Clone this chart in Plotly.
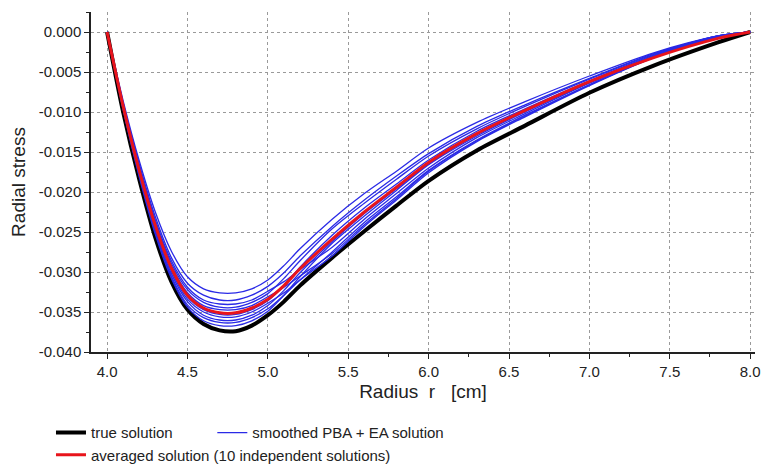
import plotly.graph_objects as go

# radius grid [cm]
radius = [4.0, 4.1, 4.2, 4.3, 4.4, 4.5, 4.6, 4.7, 4.8, 4.9, 5.0, 5.1,
          5.2, 5.4, 5.6, 5.8, 6.0, 6.3, 6.6, 7.0, 7.4, 7.8, 8.0]

true_solution = [0, -0.0100, -0.0184, -0.0257, -0.0312, -0.0347, -0.0365, -0.0373, -0.0374, -0.0367, -0.0354, -0.0337,
                 -0.0317, -0.0282, -0.0249, -0.0217, -0.0186, -0.0148, -0.0117, -0.0076, -0.0042, -0.0013, 0]

averaged = [0, -0.0093, -0.0173, -0.0242, -0.0295, -0.0329, -0.0345, -0.0351, -0.0351, -0.0345, -0.0334, -0.0317,
            -0.0296, -0.0259, -0.0225, -0.0194, -0.0163, -0.0127, -0.0098, -0.0062, -0.0032, -0.0008, 0]

# 10 independent smoothed PBA + EA solutions
pba_1 = [0, -0.0086, -0.0161, -0.0225, -0.0274, -0.0306, -0.0321, -0.0326, -0.0326, -0.0321, -0.0310, -0.0292,
         -0.0271, -0.0234, -0.0202, -0.0174, -0.0145, -0.0113, -0.0087, -0.0055, -0.0026, -0.0005, 0]
pba_2 = [0, -0.0089, -0.0165, -0.0231, -0.0282, -0.0314, -0.0329, -0.0335, -0.0335, -0.0329, -0.0318, -0.0301,
         -0.0280, -0.0243, -0.0210, -0.0180, -0.0152, -0.0118, -0.0091, -0.0058, -0.0027, -0.0005, 0]
pba_3 = [0, -0.0090, -0.0168, -0.0235, -0.0286, -0.0319, -0.0335, -0.0340, -0.0340, -0.0335, -0.0324, -0.0312,
         -0.0297, -0.0269, -0.0234, -0.0202, -0.0170, -0.0132, -0.0102, -0.0064, -0.0031, -0.0006, 0]
pba_4 = [0, -0.0091, -0.0170, -0.0237, -0.0289, -0.0322, -0.0338, -0.0344, -0.0344, -0.0338, -0.0327, -0.0308,
         -0.0286, -0.0246, -0.0214, -0.0184, -0.0155, -0.0121, -0.0093, -0.0059, -0.0028, -0.0005, 0]
pba_5 = [0, -0.0092, -0.0171, -0.0240, -0.0292, -0.0326, -0.0342, -0.0347, -0.0347, -0.0342, -0.0331, -0.0319,
         -0.0305, -0.0277, -0.0241, -0.0208, -0.0174, -0.0136, -0.0105, -0.0066, -0.0032, -0.0006, 0]
pba_6 = [0, -0.0093, -0.0174, -0.0243, -0.0296, -0.0331, -0.0347, -0.0353, -0.0353, -0.0347, -0.0336, -0.0317,
         -0.0294, -0.0254, -0.0220, -0.0190, -0.0160, -0.0124, -0.0096, -0.0061, -0.0029, -0.0005, 0]
pba_7 = [0, -0.0094, -0.0176, -0.0246, -0.0299, -0.0334, -0.0350, -0.0356, -0.0356, -0.0350, -0.0339, -0.0326,
         -0.0310, -0.0280, -0.0243, -0.0210, -0.0176, -0.0137, -0.0106, -0.0067, -0.0032, -0.0006, 0]
pba_8 = [0, -0.0095, -0.0177, -0.0248, -0.0302, -0.0337, -0.0354, -0.0360, -0.0360, -0.0354, -0.0342, -0.0323,
         -0.0301, -0.0262, -0.0227, -0.0196, -0.0165, -0.0128, -0.0099, -0.0063, -0.0030, -0.0006, 0]
pba_9 = [0, -0.0096, -0.0179, -0.0250, -0.0305, -0.0341, -0.0357, -0.0363, -0.0363, -0.0357, -0.0346, -0.0329,
         -0.0310, -0.0275, -0.0238, -0.0206, -0.0173, -0.0135, -0.0104, -0.0066, -0.0031, -0.0006, 0]
pba_10 = [0, -0.0097, -0.0181, -0.0253, -0.0308, -0.0344, -0.0361, -0.0367, -0.0367, -0.0361, -0.0349, -0.0329,
          -0.0306, -0.0264, -0.0230, -0.0198, -0.0166, -0.0130, -0.0100, -0.0063, -0.0030, -0.0006, 0]

pba_runs = [pba_1, pba_2, pba_3, pba_4, pba_5, pba_6, pba_7, pba_8, pba_9, pba_10]

y_ticks = [0.0, -0.005, -0.010, -0.015, -0.020, -0.025, -0.030, -0.035, -0.040]
y_labels = ["0.000", "-0.005", "-0.010", "-0.015", "-0.020", "-0.025", "-0.030", "-0.035", "-0.040"]
x_ticks = [4.0, 4.5, 5.0, 5.5, 6.0, 6.5, 7.0, 7.5, 8.0]
x_labels = ["4.0", "4.5", "5.0", "5.5", "6.0", "6.5", "7.0", "7.5", "8.0"]

FONT = "Liberation Sans, Arial, sans-serif"
INK = "#222"

fig = go.Figure()

fig.add_trace(go.Scatter(x=radius, y=true_solution, mode="lines", name="true solution",
                         line=dict(color="black", width=4, shape="spline", smoothing=0.8),
                         showlegend=True, legend="legend"))

for i, run in enumerate(pba_runs):
    fig.add_trace(go.Scatter(x=radius, y=run, mode="lines", name="smoothed PBA + EA solution",
                             line=dict(color="#2a2ae6", width=1.3, shape="spline", smoothing=0.8),
                             showlegend=(i == 0), legend="legend2"))

fig.add_trace(go.Scatter(x=radius, y=averaged, mode="lines",
                         name="averaged solution (10 independent solutions)",
                         line=dict(color="#e8141b", width=3, shape="spline", smoothing=0.8),
                         showlegend=True, legend="legend3"))

axis_common = dict(
    showline=True, linecolor=INK, linewidth=1.5, mirror=False,
    ticks="outside", ticklen=5, tickwidth=1.3, tickcolor=INK,
    showgrid=True, gridcolor="#9a9a9a", gridwidth=1, griddash="dot",
    zeroline=False, tickfont=dict(family=FONT, size=15, color=INK),
    ticklabeloverflow="allow", automargin=False,
)

fig.update_xaxes(
    range=[3.9, 8.03], tickmode="array", tickvals=x_ticks, ticktext=x_labels,
    minor=dict(dtick=0.25, tick0=4.0, ticks="outside", ticklen=3, tickcolor=INK, showgrid=False),
    title=dict(text="Radius  r   [cm]", font=dict(family=FONT, size=19, color=INK), standoff=6),
    **axis_common,
)
fig.update_yaxes(
    range=[-0.040, 0.0025], tickmode="array", tickvals=y_ticks, ticktext=y_labels,
    minor=dict(dtick=0.0025, tick0=0, ticks="outside", ticklen=3, tickcolor=INK, showgrid=False),
    title=dict(text="Radial stress", font=dict(family=FONT, size=19, color=INK), standoff=8),
    **axis_common,
)

legend_style = dict(orientation="h", xref="container", yref="container", xanchor="left",
                    yanchor="middle", font=dict(family=FONT, size=15, color=INK),
                    bgcolor="rgba(0,0,0,0)", itemwidth=30)
fig.update_layout(
    width=761, height=470,
    margin=dict(l=91, r=6, t=12, b=118),
    paper_bgcolor="white", plot_bgcolor="white",
    font=dict(family=FONT, color=INK),
    showlegend=True,
    legend=dict(x=0.067, y=0.079, **legend_style),
    legend2=dict(x=0.279, y=0.079, **legend_style),
    legend3=dict(x=0.067, y=0.032, **legend_style),
)

fig.write_html("out.html", config={"displayModeBar": False},
               post_script="document.body.style.margin = '0';")
